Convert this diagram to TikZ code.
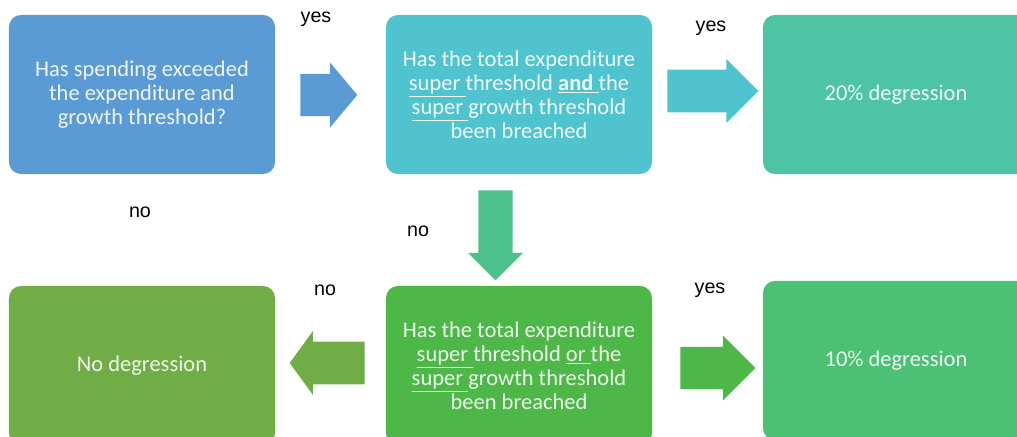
\documentclass[tikz,border=0pt]{standalone}
\usepackage{fontspec}
\setmainfont{Carlito}
\newfontfamily\labelfont{Liberation Sans}
\usetikzlibrary{shapes.arrows}
\definecolor{cblue}{HTML}{5B9BD5}
\definecolor{cteal}{HTML}{4FC3CE}
\definecolor{cmint}{HTML}{4DC4A4}
\definecolor{cdown}{HTML}{4DC18C}
\definecolor{colive}{HTML}{70AD47}
\definecolor{cgreen}{HTML}{4DB848}
\definecolor{cleaf}{HTML}{4CC075}

\begin{document}
\begin{tikzpicture}[x=0.025cm, y=-0.025cm] % 1 unit = 1 px of the original
\tikzstyle{mybox} = [rectangle, rounded corners=0.3cm, minimum width=6.65cm, minimum height=3.975cm, inner sep=0pt, align=center, text=white, text opacity=0.9, font=\fontsize{16}{17}\selectfont] % question / result box
\tikzstyle{myarrow} = [single arrow, inner sep=0pt, text depth=0pt, anchor=tail] % block arrow, shaft = text height
\tikzstyle{mylabel} = [font=\labelfont\fontsize{14}{14}\selectfont] % yes / no

\clip (0,0) rectangle (1017,436);

% boxes
\node[mybox, fill=cblue] (spend) at (142,94.5) {Has spending exceeded\\ the expenditure and\\ growth threshold?};
\node[mybox, fill=cteal] (both) at (519,94.5) {Has the total expenditure\\ \underline{super\ }threshold \underline{\textbf{and}\ }the\\ \underline{super\ }growth threshold\\ been breached};
\node[mybox, fill=cmint] (twenty) at (896,94.5) {20\% degression};
\node[mybox, fill=colive] (none) at (142,365.5) {No degression};
\node[mybox, fill=cgreen] (either) at (519,365.5) {Has the total expenditure\\ \underline{super\ }threshold \underline{or\ }the\\ \underline{super\ }growth threshold\\ been breached};
\node[mybox, fill=cleaf] (ten) at (896,360.5) {10\% degression};

% arrows
\node[myarrow, fill=cblue, minimum height=1.425cm, text height=0.9cm, minimum width=1.625cm, single arrow tip angle=100] (ab) at (300,95) {};
\node[myarrow, fill=cteal, minimum height=2.275cm, text height=1cm, minimum width=1.6cm] (bc) at (667,91) {};
\node[myarrow, fill=cdown, minimum height=2.25cm, text height=0.825cm, minimum width=1.375cm, rotate=-90] (be) at (495.5,190) {};
\node[myarrow, fill=colive, minimum height=1.875cm, text height=1cm, minimum width=1.6cm, single arrow tip angle=108, rotate=180] (ed) at (365,363) {};
\node[myarrow, fill=cgreen, minimum height=1.875cm, text height=0.925cm, minimum width=1.625cm] (ef) at (680,368) {};

% labels
\node[mylabel] (yes1) at (316,19) {yes};
\node[mylabel] (yes2) at (711,28) {yes};
\node[mylabel] (no1) at (140,212) {no};
\node[mylabel] (no2) at (418,231) {no};
\node[mylabel] (no3) at (325,290) {no};
\node[mylabel] (yes3) at (710,290) {yes};
\end{tikzpicture}
\end{document}
